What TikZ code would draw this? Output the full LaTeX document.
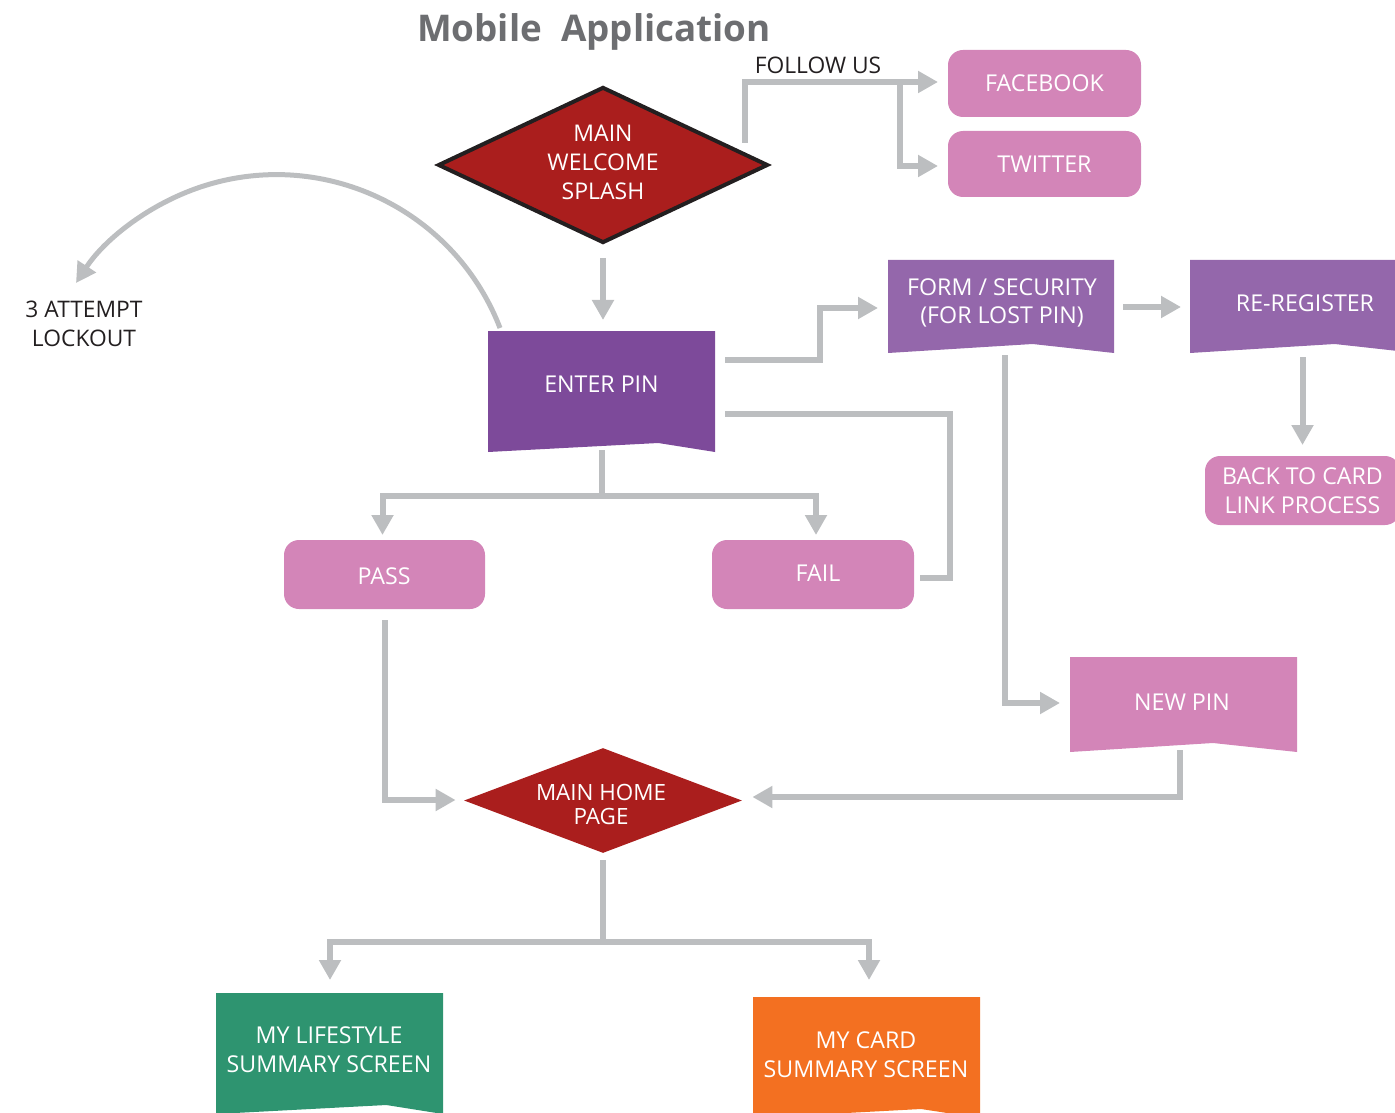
\documentclass[tikz,border=0pt]{standalone}
\usepackage{fontspec}
\setmainfont{Open Sans}
\usetikzlibrary{shapes.geometric,arrows.meta,calc}

\definecolor{linegray}{HTML}{BCBEC0}
\definecolor{titlegray}{HTML}{6D6E71}
\definecolor{inkblack}{HTML}{231F20}
\definecolor{splashred}{HTML}{AA1E1D}
\definecolor{pinpurple}{HTML}{7D4A9A}
\definecolor{lightpurple}{HTML}{9467AB}
\definecolor{pinkbox}{HTML}{D385B8}
\definecolor{lifegreen}{HTML}{2E9470}
\definecolor{cardorange}{HTML}{F37021}

\newcommand{\bodyfont}{\fontsize{11.6}{14.5}\selectfont}
\newcommand{\notefont}{\fontsize{11.4}{14.5}\selectfont}

\begin{document}
\begin{tikzpicture}[x=0.5pt,y=-0.5pt,
  conn/.style={draw=linegray, line width=3pt},
  arr/.style={conn, -{Triangle[width=10.5pt,length=10pt]}},
  lbl/.style={text=white, font=\bodyfont, align=center, inner sep=0pt},
  note/.style={text=inkblack, font=\notefont, align=center, inner sep=0pt},
  pill/.style={fill=pinkbox, rounded corners=7.5pt, inner sep=0pt, outer sep=0pt,
    text=white, font=\bodyfont, align=center},
  % box with a notched lower edge; #1 colour, #2 position of the notch peak
  docbox/.style 2 args={inner sep=0pt, outer sep=0pt,
    path picture={\fill[#1] (path picture bounding box.north west)
      -- (path picture bounding box.north east)
      -- (path picture bounding box.south east)
      -- ($(path picture bounding box.south west)!#2!(path picture bounding box.south east)+(0,4.5pt)$)
      -- (path picture bounding box.south west) -- cycle;}},
]
\useasboundingbox (0,0) rectangle (1395,1112);

% title
\node[text=titlegray, font=\fontsize{18.4}{22}\selectfont\bfseries, inner sep=0pt, anchor=base]
  (title) at (594,42) {Mobile\ \ Application};

% welcome splash and social links
\node[diamond, shape aspect=2.1, fill=splashred, draw=inkblack, line width=2pt,
  minimum width=165pt, minimum height=78pt, inner sep=0pt]
  (splash) at (603,165) {};
\node[lbl, font=\fontsize{11.5}{14.5}\selectfont] (splash-t) at (603,162.5) {MAIN\\WELCOME\\SPLASH};

\node[pill, minimum width=96.5pt, minimum height=33.5pt] (fb) at (1044.5,83.5) {FACEBOOK};
\node[pill, minimum width=96.5pt, minimum height=33pt] (tw) at (1044.5,164) {TWITTER};
\node[note, anchor=base] (follow) at (818,74) {FOLLOW US};

% PIN entry
\node[docbox={pinpurple}{0.75}, minimum width=113.5pt, minimum height=60.5pt] (pin) at (601.5,391.5) {};
\node[lbl] (pin-t) at (601.5,384.5) {ENTER PIN};

\node[note] (lockout) at (84,323.5) {3 ATTEMPT\\LOCKOUT};

% lost PIN branch
\node[docbox={lightpurple}{0.64}, minimum width=113pt, minimum height=46.5pt] (form) at (1001,306.5) {};
\node[lbl, font=\fontsize{11.6}{14}\selectfont] (form-t) at (1002,302.5) {FORM / SECURITY\\(FOR LOST PIN)};

\node[docbox={lightpurple}{0.64}, minimum width=113pt, minimum height=46.5pt] (rereg) at (1303,306.5) {};
\node[lbl] (rereg-t) at (1305,303.5) {RE-REGISTER};

\node[pill, minimum width=97.5pt, minimum height=34.5pt] (back) at (1302.5,490.5) {BACK TO CARD\\LINK PROCESS};

\node[docbox={pinkbox}{0.63}, minimum width=113.5pt, minimum height=47.5pt] (newpin) at (1183.5,704.5) {};
\node[lbl] (newpin-t) at (1182,702.5) {NEW PIN};

% pass / fail
\node[pill, minimum width=100.5pt, minimum height=34.5pt] (pass) at (384.5,574.5) {};
\node[lbl] (pass-t) at (384,576) {PASS};
\node[pill, minimum width=101pt, minimum height=34.5pt] (fail) at (813,574.5) {};
\node[lbl] (fail-t) at (818,573.5) {FAIL};

% home page and summary screens
\node[diamond, shape aspect=2.65, fill=splashred, minimum width=139pt, minimum height=52.5pt,
  inner sep=0pt] (home) at (603,800.5) {};
\node[lbl, font=\fontsize{11.2}{12}\selectfont] (home-t) at (601,804) {MAIN HOME\\PAGE};

\node[docbox={lifegreen}{0.75}, minimum width=113.5pt, minimum height=60.5pt] (life) at (329.5,1053.5) {};
\node[lbl] (life-t) at (329,1050) {MY LIFESTYLE\\SUMMARY SCREEN};

\node[docbox={cardorange}{0.74}, minimum width=113.5pt, minimum height=60.5pt] (card) at (866.5,1057.5) {};
\node[lbl] (card-t) at (866,1055) {MY CARD\\SUMMARY SCREEN};

% ---- connectors ----
\coordinate (fstart) at ($(splash.east)+(-25,-22)$);
\coordinate (fork) at ($(fb.west)+(-48,-1.5)$);
\draw[arr, line join=miter] (fstart) |- ($(fb.west)+(-10,-1.5)$);
\draw[arr] (fork) |- ($(tw.west)+(-10,2)$);

\draw[arr] ($(splash.south)+(0,13)$) -- ($(pin.north)+(1.5,-11)$);

\coordinate (lockstart) at ($(pin.north west)+(12,-3)$);
\draw[arr, line width=2.5pt] (lockstart) arc[start angle=-21.1, end angle=-146.8, radius=239.6];

\draw[arr] ($(pin.north east)+(10,29)$) -- ++(95,0) |- ($(form.west)+(-10,1.5)$);
\draw[arr] ($(form.east)+(9,0.5)$) -- ($(rereg.west)+(-9,0.5)$);
\draw[arr] ($(rereg.south)+(-0.5,4)$) -- ($(back.north)+(0,-11)$);

\coordinate (split1) at ($(pin.south)+(0,44)$);
\draw[arr] ($(pin.south)+(0,-2)$) -- (split1) -| ($(pass.north)+(-2,-5)$);
\draw[arr] (split1) -| ($(fail.north)+(3,-5)$);

\draw[conn] ($(pin.east)+(10,22.5)$) -- ++(225,0) |- ($(fail.east)+(6,3.5)$);

\draw[arr] ($(form.south)+(4,2)$) |- ($(newpin.west)+(-10,-1.5)$);
\draw[arr] ($(newpin.south)+(-3.5,-2)$) |- ($(home.east)+(10,-3.5)$);
\draw[arr] ($(pass.south)+(0,11)$) |- ($(home.west)+(-8,-0.5)$);

\coordinate (split2) at ($(home.south)+(0,89)$);
\draw[arr] ($(home.south)+(0,7)$) -- (split2) -| ($(life.north)+(0.5,-13)$);
\draw[arr] (split2) -| ($(card.north)+(2.5,-17)$);
\end{tikzpicture}
\end{document}
